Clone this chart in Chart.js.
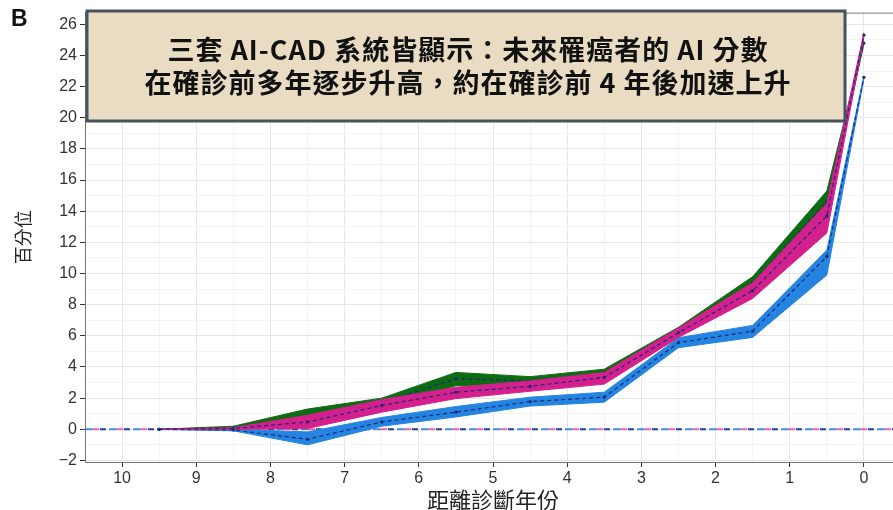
<!DOCTYPE html>
<html>
<head>
<meta charset="utf-8">
<script src="https://cdn.jsdelivr.net/npm/chart.js@4/dist/chart.umd.min.js"></script>
<style>
	html, body { margin: 0; padding: 0; background: #fff; overflow: hidden; }
	#wrap { width: 893px; height: 510px; overflow: hidden; }
</style>
</head>
<body>
<div id="wrap"><canvas id="scoreLine" width="910" height="513"></canvas></div>
<script>
// years before diagnosis (half-year bins)
const years = [9.5, 8.5, 7.5, 6.5, 5.5, 4.5, 3.5, 2.5, 1.5, 0.5, 0];

// percentile of AI score, three systems: mean and band limits
const greenMid   = [0, 0.1, 0.8, 1.7, 3.25, 3.1, 3.6, 6.3, 9.4, 14.6, 24.8];
const greenUpper = [0, 0.2, 1.3, 2.0, 3.65, 3.38, 3.86, 6.55, 9.8, 15.3, 24.85];
const greenLower = [0, 0.0, 0.4, 1.4, 2.8, 2.8, 3.3, 6.0, 9.0, 13.8, 24.75];

const pinkMid   = [0, 0.05, 0.47, 1.53, 2.38, 2.76, 3.33, 6.2, 8.9, 13.7, 25.3];
const pinkUpper = [0, 0.1, 0.9, 1.9, 2.7, 3.1, 3.65, 6.5, 9.4, 14.5, 25.45];
const pinkLower = [0, 0.0, 0.05, 1.1, 1.97, 2.44, 2.9, 5.9, 8.4, 12.6, 25.15];

const blueMid   = [0, -0.05, -0.64, 0.47, 1.1, 1.78, 2.06, 5.56, 6.3, 11.1, 22.6];
const blueUpper = [0, 0.0, -0.17, 0.76, 1.46, 2.06, 2.38, 5.88, 6.67, 11.5, 22.7];
const blueLower = [0, -0.1, -1.0, 0.2, 0.79, 1.49, 1.74, 5.24, 5.9, 9.9, 22.5];

// reference line at zero
const zeroYears = [10.5, -0.5];
const zeroLine = [0, 0];

const titleLines = [
	"三套 AI-CAD 系統皆顯示：未來罹癌者的 AI 分數",
	"在確診前多年逐步升高，約在確診前 4 年後加速上升"
];

"use strict";

const pts = (xs, ys) => xs.map((x, i) => ({ x: x, y: ys[i] }));

function midSet(vals) {
	return {
		data: pts(years, vals),
		borderColor: "#1b2a7a",
		borderWidth: 1.2,
		borderDash: [4, 3],
		pointRadius: 1.6,
		pointBackgroundColor: "#1b2a7a",
		pointBorderWidth: 0,
		fill: false
	};
}
function edgeSet(vals, color, fillMode) {
	return {
		data: pts(years, vals),
		borderColor: color,
		backgroundColor: color,
		borderWidth: 1,
		pointRadius: 0,
		fill: fillMode
	};
}
function zeroSet(color, dash, offset) {
	return {
		data: pts(zeroYears, zeroLine),
		borderColor: color,
		borderWidth: 2,
		borderDash: dash,
		borderDashOffset: offset,
		pointRadius: 0,
		fill: false
	};
}

const panelDecor = {
	id: "panelDecor",
	afterDatasetsDraw(chart) {
		const ctx = chart.ctx;
		const a = chart.chartArea;
		ctx.save();
		// panel border
		ctx.strokeStyle = "#777";
		ctx.lineWidth = 1;
		ctx.strokeRect(a.left + 0.5, a.top + 0.5, a.right - a.left, a.bottom - a.top);
		// headline box
		ctx.fillStyle = "#e9dcc3";
		ctx.fillRect(87, 11, 758, 110);
		ctx.strokeStyle = "#46525e";
		ctx.lineWidth = 3;
		ctx.strokeRect(87, 11, 758, 110);
		ctx.fillStyle = "#111";
		ctx.font = "bold 27px 'Noto Sans CJK TC'";
		ctx.letterSpacing = "1px";
		ctx.textAlign = "center";
		ctx.textBaseline = "middle";
		ctx.fillText(titleLines[0], 468, 50);
		ctx.fillText(titleLines[1], 468, 83);
		// panel letter
		ctx.letterSpacing = "0px";
		ctx.font = "bold 23px 'Liberation Sans'";
		ctx.textAlign = "left";
		ctx.fillText("B", 11, 20);
		ctx.restore();
	}
};

new Chart(document.getElementById("scoreLine"), {
	type: "line",
	data: {
		datasets: [
			midSet(pinkMid),
			edgeSet(pinkUpper, "#d4208c", "+1"),
			edgeSet(pinkLower, "#d4208c", false),
			midSet(greenMid),
			edgeSet(greenUpper, "#0d6b12", "+1"),
			edgeSet(greenLower, "#0d6b12", false),
			midSet(blueMid),
			edgeSet(blueUpper, "#2584e0", "+1"),
			edgeSet(blueLower, "#2584e0", false),
			zeroSet("#3e8fdc", [7, 17], 0),
			zeroSet("#e06aa6", [7, 17], -7),
			zeroSet("#2b3a86", [6, 18], -15)
		]
	},
	plugins: [panelDecor],
	options: {
		responsive: false,
		animation: false,
		layout: { padding: { top: 9, right: 9, left: 0, bottom: 0 } },
		plugins: {
			legend: { display: false },
			tooltip: { enabled: false },
			filler: { propagate: false }
		},
		scales: {
			x: {
				type: "linear",
				reverse: true,
				min: -0.5,
				max: 10.5,
				afterFit: s => { s.height = 51; },
				border: { color: "#333", width: 1 },
				grid: {
					color: c => Number.isInteger(c.tick.value) ? "#e6e6e6" : "#f3f3f3",
					tickColor: c => Number.isInteger(c.tick.value) ? "#333" : "rgba(0,0,0,0)",
					tickLength: 5
				},
				ticks: {
					stepSize: 0.5,
					includeBounds: false,
					autoSkip: false,
					maxRotation: 0,
					padding: 2,
					color: "#333",
					font: { family: "'Liberation Sans'", size: 16 },
					callback: v => Number.isInteger(v) ? String(v) : ""
				},
				title: {
					display: true,
					text: "距離診斷年份",
					color: "#222",
					font: { family: "'Noto Sans CJK TC'", size: 22 },
					padding: { top: 0, bottom: 0 }
				}
			},
			y: {
				min: -2.1,
				max: 26.75,
				afterFit: s => { s.width = 85; },
				border: { color: "#333", width: 1 },
				grid: {
					color: c => c.tick.value % 2 === 0 ? "#e6e6e6" : "#f3f3f3",
					tickColor: c => c.tick.value % 2 === 0 ? "#333" : "rgba(0,0,0,0)",
					tickLength: 5
				},
				ticks: {
					stepSize: 1,
					includeBounds: false,
					autoSkip: false,
					padding: 3,
					color: "#333",
					font: { family: "'Liberation Sans'", size: 16 },
					callback: v => v % 2 === 0 ? (v < 0 ? "\u2212" + Math.abs(v) : String(v)) : ""
				},
				title: {
					display: true,
					text: "百分位",
					color: "#222",
					font: { family: "'Noto Sans CJK TC'", size: 18 },
					padding: { top: 12, bottom: 0 }
				}
			}
		}
	}
});
</script>
</body>
</html>
